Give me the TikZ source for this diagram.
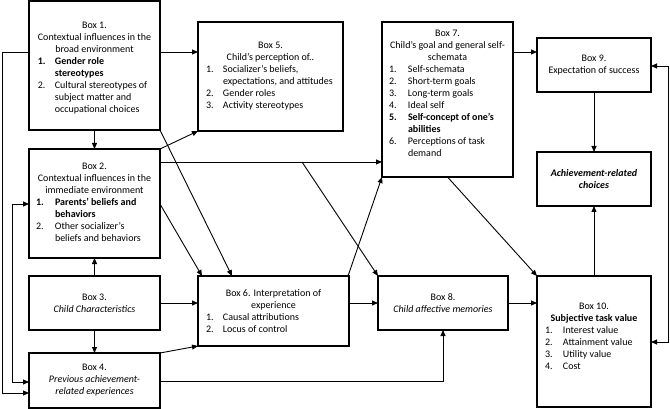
\documentclass[tikz,border=0pt]{standalone}
\usepackage{fontspec}
\setmainfont{Carlito}
\usepackage{array}
\usetikzlibrary{arrows.meta,calc}
\newcommand{\hd}[1]{\multicolumn{2}{@{}c@{}}{#1}\\}
\begin{document}
\begin{tikzpicture}[x=1pt,y=-1pt,
  box/.style={draw, line width=1.2pt, inner sep=0pt, outer sep=0pt, font=\fontsize{10}{12}\selectfont},
  txt/.style={inner sep=0pt, outer sep=0pt, anchor=north, font=\fontsize{10}{12}\selectfont},
  arr/.style={line width=0.9pt, -{Triangle[length=6pt,width=5pt]}},
  darr/.style={line width=0.9pt, {Triangle[length=6pt,width=5pt]}-{Triangle[length=6pt,width=5pt]}}]
\useasboundingbox (0,0) rectangle (670,409);

% boxes
\node[box, minimum width=131pt, minimum height=129pt] (b1) at (94.5,65.5) {};
\node[box, minimum width=145pt, minimum height=109pt] (b5) at (270.5,76.5) {};
\node[box, minimum width=131pt, minimum height=155pt] (b7) at (447.5,99.5) {};
\node[box, minimum width=114pt, minimum height=54pt, align=center] (b9) at (594,65)
 {Box 9.\\Expectation of success};
\node[box, minimum width=114pt, minimum height=54pt, align=center] (ach) at (594,179)
 {\textbf{\textit{Achievement-related}}\\\textbf{\textit{choices}}};
\node[box, minimum width=114pt, minimum height=131pt] (b10) at (594,341.5) {};
\node[box, minimum width=130pt, minimum height=54pt, align=center] (b8) at (443,303)
 {Box 8.\\\textit{Child affective memories}};
\node[box, minimum width=151pt, minimum height=70pt] (b6) at (273.5,311) {};
\node[box, minimum width=131pt, minimum height=109pt] (b2) at (94.5,203.5) {};
\node[box, minimum width=131pt, minimum height=54pt, align=center] (b3) at (94.5,303)
 {Box 3.\\\textit{Child Characteristics}};
\node[box, minimum width=131pt, minimum height=55pt, align=center] (b4) at (94.5,380.5)
 {Box 4.\\\textit{Previous achievement-}\\\textit{related experiences}};

% box texts
\node[txt] (t1) at ([yshift=-18.8pt]b1.north)
 {\begin{tabular}{@{}p{17pt}@{}p{96pt}@{}}
  \hd{Box 1.}\hd{Contextual influences in the}\hd{broad environment}
  \textbf{1.} & \textbf{Gender role}\\
   & \textbf{stereotypes}\\
  2. & Cultural stereotypes of\\
   & subject matter and\\
   & occupational choices
  \end{tabular}};

\node[txt] (t5) at ([yshift=-18.5pt]b5.north)
 {\begin{tabular}{@{}p{17pt}@{}p{112pt}@{}}
  \hd{Box 5.}\hd{Child’s perception of..}
  1. & Socializer’s beliefs,\\
   & expectations, and attitudes\\
  2. & Gender roles\\
  3. & Activity stereotypes
  \end{tabular}};

\node[txt] (t7) at ([yshift=-6.1pt]b7.north)
 {\begin{tabular}{@{}p{19pt}@{}p{98pt}@{}}
  \hd{Box 7.}\hd{Child’s goal and general self-}\hd{schemata}
  1. & Self-schemata\\
  2. & Short-term goals\\
  3. & Long-term goals\\
  4. & Ideal self\\
  \textbf{5.} & \textbf{Self-concept of one’s}\\
   & \textbf{abilities}\\
  6. & Perceptions of task\\
   & demand
  \end{tabular}};

\node[txt] (t2) at ([yshift=-12.5pt]b2.north)
 {\begin{tabular}{@{}p{19pt}@{}p{98pt}@{}}
  \hd{Box 2.}\hd{Contextual influences in the}\hd{immediate environment}
  \textbf{1.} & \textbf{Parents’ beliefs and}\\
   & \textbf{behaviors}\\
  2. & Other socializer’s\\
   & beliefs and behaviors
  \end{tabular}};

\node[txt] (t6) at ([yshift=-12.1pt]b6.north)
 {\begin{tabular}{@{}p{17pt}@{}p{118pt}@{}}
  \hd{Box 6. Interpretation of}\hd{experience}
  1. & Causal attributions\\
  2. & Locus of control
  \end{tabular}};

\node[txt] (t10) at ([yshift=-24.8pt]b10.north)
 {\begin{tabular}{@{}p{18pt}@{}p{80pt}@{}}
  \hd{Box 10.}\hd{\textbf{Subjective task value}}
  1. & Interest value\\
  2. & Attainment value\\
  3. & Utility value\\
  4. & Cost
  \end{tabular}};

% connectors
\draw[arr] ([yshift=-51pt]b1.north east) coordinate (p15) -- (p15 -| b5.west);
\draw[arr] (b1.south) -- (b2.north);
\draw[arr] ([yshift=-51pt]b1.north west) -- ++(-27,0) |- ([yshift=15pt]b4.south west);
\draw[darr] ([yshift=-55pt]b2.north west) -- ++(-17,0) |- ([yshift=-29pt]b4.north west);
\draw[arr] (b2.north east) -- (b5.south west);
\draw[arr] ([yshift=-13pt]b2.north east) coordinate (p27) -- (p27 -| b7.west);
\coordinate (br) at (302,162);
\draw[arr] (br) -- (b8.north west);
\draw[arr] ([yshift=-55pt]b2.north east) -- ([xshift=4pt]b6.north west);
\draw[arr] (b1.south east) -- ([xshift=34pt]b6.north west);
\draw[arr] ([xshift=-1pt]b6.north east) -- (b7.south west);
\draw[arr] (b7.south) -- (b10.north west);
\draw[arr] ([yshift=-30pt]b7.north east) coordinate (p79) -- (p79 -| b9.west);
\draw[arr] (b9.south) -- (ach.north);
\draw[arr] (b10.north) -- (ach.south);
\draw[darr] ([yshift=-28pt]b9.north east) -- ++(17,0) |- ([yshift=-66pt]b10.north east);
\draw[arr] (b3.north) -- (b2.south);
\draw[arr] (b3.south) -- (b4.north);
\draw[arr] (b3.east) -- (b3.east -| b6.west);
\draw[arr] (b4.north east) -- (b6.south west);
\draw[arr] ([yshift=-28pt]b4.north east) -| (b8.south);
\draw[arr] (b6.east |- b8.west) -- (b8.west);
\draw[arr] (b8.east) -- (b8.east -| b10.west);
\end{tikzpicture}
\end{document}
